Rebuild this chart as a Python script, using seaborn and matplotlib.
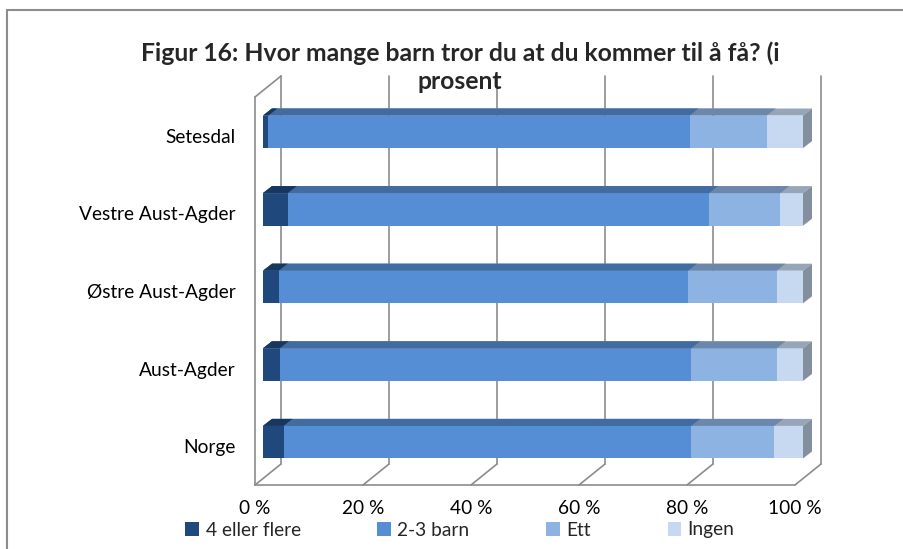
import matplotlib
matplotlib.use("Agg")
import matplotlib.pyplot as plt
import seaborn as sns
import pandas as pd
from matplotlib.patches import Polygon, Rectangle, Patch
from matplotlib.lines import Line2D
from matplotlib.transforms import ScaledTranslation, IdentityTransform

regions = ["Setesdal", "Vestre Aust-Agder", "Østre Aust-Agder", "Aust-Agder", "Norge"]
series = ["4 eller flere", "2-3 barn", "Ett", "Ingen"]
fire_eller_flere = [1.0, 4.6, 2.9, 3.1, 3.8]
to_tre_barn = [78.0, 78.0, 75.8, 76.2, 75.5]
ett = [14.3, 13.2, 16.4, 15.8, 15.4]
ingen = [6.7, 4.2, 4.9, 4.9, 5.3]
x_ticks = [0, 20, 40, 60, 80, 100]
x_labels = ["0 %", "20 %", "40 %", "60 %", "80 %", "100 %"]
title = "Figur 16: Hvor mange barn tror du at du kommer til å få? (i\nprosent"

colors = ["#1f497d", "#558ed5", "#8db3e2", "#c6d9f1"]
grey = "#8c8c8c"

df = pd.DataFrame({"region": regions,
                   series[0]: fire_eller_flere,
                   series[1]: to_tre_barn,
                   series[2]: ett,
                   series[3]: ingen})
# cumulative sums so the stacks can be drawn longest-first
cum = df[series].cumsum(axis=1)

sns.set_style("white")
plt.rcParams["font.family"] = ["Lato", "DejaVu Sans"]

fig = plt.figure(figsize=(9.04, 5.49), dpi=100)
ax = fig.add_axes([255 / 904, 1 - 485 / 549, 540 / 904, 388 / 549])

def shade(hex_color, f):
    r, g, b = matplotlib.colors.to_rgb(hex_color)
    return (r * f, g * f, b * f)

# 3D look: offsets in pixels
bar_dx, bar_dy = 8, 4       # bar plane relative to front plane
face_dx, face_dy = 9, 7     # bar depth
wall_dx, wall_dy = 26, 21   # back wall relative to front plane

layers = []
for i in reversed(range(len(series))):
    n_before = len(ax.patches)
    sns.barplot(x=cum[series[i]], y=df["region"], order=regions, orient="y",
                color=colors[i], saturation=1, width=0.42, ax=ax, zorder=3)
    layers.append((i, ax.patches[n_before:]))

ax.set_autoscale_on(False)
ax.set_xlim(0, 100)
ax.set_ylim(4.5, -0.5)

shift = ScaledTranslation(bar_dx / 100, bar_dy / 100, fig.dpi_scale_trans)
z = 4
for k, (i, patches) in enumerate(layers):
    for p in patches:
        p.set_transform(ax.transData + shift)
        p.set_edgecolor("none")
        p.set_clip_on(False)
        bb = p.get_bbox()
        (x0, ya), (x1, yb) = ax.transData.transform([(bb.x0, bb.y0), (bb.x1, bb.y1)])
        x0, x1 = x0 + bar_dx, x1 + bar_dx
        yt, ybot = max(ya, yb) + bar_dy, min(ya, yb) + bar_dy
        top = Polygon([(x0, yt), (x1, yt), (x1 + face_dx, yt + face_dy), (x0 + face_dx, yt + face_dy)],
                      closed=True, facecolor=shade(colors[i], 0.76), edgecolor="none",
                      transform=IdentityTransform(), zorder=z, clip_on=False)
        ax.add_patch(top)
        if k == 0:
            side = Polygon([(x1, ybot), (x1, yt), (x1 + face_dx, yt + face_dy), (x1 + face_dx, ybot + face_dy)],
                           closed=True, facecolor=shade(colors[i], 0.66), edgecolor="none",
                           transform=IdentityTransform(), zorder=z, clip_on=False)
            ax.add_patch(side)
    z += 1

# walls and floor
ax_bb = ax.get_position()
bot = ax_bb.y0 * fig.bbox.height
topy = ax_bb.y1 * fig.bbox.height
for t in x_ticks:
    xd = ax.transData.transform((t, 0))[0]
    ax.add_line(Line2D([xd + wall_dx, xd + wall_dx], [bot + wall_dy, topy + wall_dy],
                       color=grey, lw=1.2, transform=IdentityTransform(), zorder=1, clip_on=False))
    ax.add_line(Line2D([xd, xd + wall_dx], [bot, bot + wall_dy],
                       color=grey, lw=1.2, transform=IdentityTransform(), zorder=1, clip_on=False))
x0d = ax.transData.transform((0, 0))[0]
ax.add_line(Line2D([x0d, x0d + wall_dx], [topy, topy + wall_dy],
                   color=grey, lw=1.2, transform=IdentityTransform(), zorder=1, clip_on=False))

for s in ["top", "right"]:
    ax.spines[s].set_visible(False)
for s in ["bottom", "left"]:
    ax.spines[s].set_color(grey)
    ax.spines[s].set_linewidth(1.2)

ax.set_xticks(x_ticks)
ax.set_xticklabels(x_labels)
ax.set_yticks([j - 0.5 for j in range(len(regions) + 1)], minor=True)
ax.tick_params(axis="x", length=5, color=grey, width=1.2, pad=6, labelsize=13.8, labelcolor="black")
ax.tick_params(axis="y", which="major", length=0, pad=14, labelsize=13.8, labelcolor="black")
ax.tick_params(axis="y", which="minor", length=5, color=grey, width=1.2)
ax.set_xlabel("")
ax.set_ylabel("")
ax.grid(False)

fig.text(460 / 904, 1 - 67 / 549, title, ha="center", va="center",
         fontsize=17.8, fontweight="bold", linespacing=1.25)

handles = [Patch(facecolor=c, edgecolor="none") for c in colors]
fig.legend(handles, series, loc="center", bbox_to_anchor=(460 / 904, 1 - 530 / 549),
           ncol=4, frameon=False, fontsize=13.8, handlelength=0.7, handleheight=0.7,
           handletextpad=0.35, columnspacing=4.0)

fig.add_artist(Rectangle((7 / 904, -0.1), 1.2, 1.1 - 10 / 549, transform=fig.transFigure,
                         facecolor="none", edgecolor=grey, lw=1.5))

fig.savefig("out.png", dpi=100)
